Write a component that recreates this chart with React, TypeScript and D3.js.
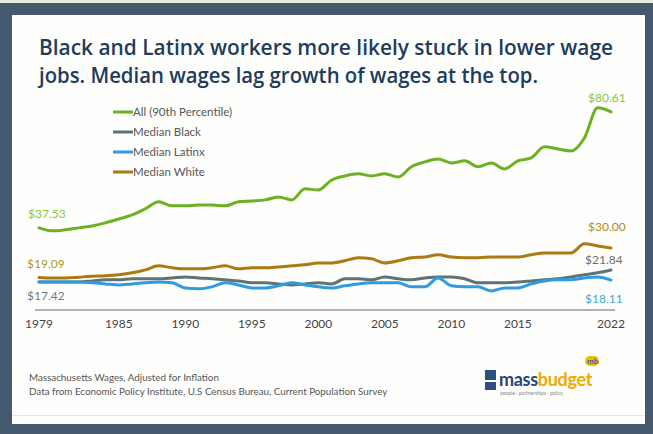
import React from "react";
import * as d3 from "d3";

const years = d3.range(1979, 2023);
const all90 = [37.53, 36.4, 36.8, 37.5, 38.2, 39.4, 40.8, 42.3, 44.6, 47.2, 45.7, 45.7, 46.0, 46.0, 45.7, 47.2, 47.5, 47.9, 49.0, 47.9, 52.0, 51.6, 55.3, 56.8, 57.6, 56.8, 57.6, 56.4, 60.2, 62.0, 63.1, 61.6, 62.4, 60.2, 61.6, 59.4, 62.4, 63.5, 67.6, 66.8, 66.1, 70.9, 82.1, 80.61];
const medBlack = [17.42, 17.4, 17.4, 17.4, 17.8, 18.2, 18.2, 18.6, 18.6, 18.6, 18.9, 19.3, 18.9, 18.6, 18.2, 17.8, 17.1, 17.1, 16.7, 16.3, 16.7, 17.1, 16.7, 18.6, 18.6, 18.2, 19.3, 18.6, 18.2, 18.9, 19.3, 19.3, 18.6, 17.1, 17.1, 17.1, 17.4, 17.8, 18.2, 18.6, 19.3, 20.1, 20.8, 21.84];
const medLatinx = [17.42, 17.4, 17.4, 17.4, 17.1, 16.7, 16.3, 16.7, 17.1, 17.4, 17.1, 15.2, 14.9, 15.6, 17.1, 16.3, 15.2, 15.2, 16.0, 17.1, 16.3, 15.6, 15.2, 16.0, 16.7, 17.1, 17.1, 17.1, 15.6, 15.6, 18.9, 16.0, 15.6, 15.6, 14.1, 15.2, 15.2, 16.7, 17.8, 18.2, 18.2, 18.9, 19.3, 18.11];
const medWhite = [19.09, 18.9, 18.9, 19.2, 19.5, 19.7, 20.1, 20.8, 21.9, 23.4, 22.7, 22.3, 22.3, 22.7, 23.4, 22.3, 22.7, 22.7, 23.0, 23.4, 23.8, 24.5, 24.5, 25.3, 26.4, 26.0, 24.5, 25.3, 26.4, 26.7, 27.5, 26.7, 26.4, 26.4, 26.7, 26.7, 26.7, 27.5, 28.2, 28.2, 28.2, 31.6, 30.8, 30.0];
const tickYears = [1979, 1985, 1990, 1995, 2000, 2005, 2010, 2015, 2022];
const seriesNames = ["All (90th Percentile)", "Median Black", "Median Latinx", "Median White"];
const seriesColors = ["#6db024", "#5e7376", "#2f9be0", "#ac7a10"];
const titleLines = [
  "Black and Latinx workers more likely stuck in lower wage",
  "jobs. Median wages lag growth of wages at the top.",
];
const footLines = [
  "Massachusetts Wages, Adjusted for Inflation",
  "Data from Economic Policy Institute, U.S Census Bureau, Current Population Survey",
];

export default function App() {
  const x = d3.scaleLinear().domain([1979, 2022]).range([39, 611]);
  const y = d3.scaleLinear().domain([7, 85]).range([310, 100]);
  const line = d3
    .line<number>()
    .x((_, i) => x(years[i]))
    .y((d) => y(d))
    .curve(d3.curveMonotoneX);
  const data = [all90, medBlack, medLatinx, medWhite];
  const drawOrder = [3, 1, 2, 0];
  const font = "Lato, 'Open Sans', sans-serif";
  const last = years.length - 1;

  return (
    <svg
      width={653}
      height={434}
      style={{ position: "fixed", left: 0, top: 0 }}
      fontFamily={font}
    >
      <rect x={0} y={0} width={653} height={434} fill="#45596e" />
      <rect x={0} y={0} width={653} height={3} fill="#e6ece0" />
      <rect x={12} y={15} width={633} height={409} fill="#fefefd" />
      <line x1={12} x2={645} y1={415.5} y2={415.5} stroke="#e4e4e4" strokeWidth={1} />

      {titleLines.map((t, i) => (
        <text
          key={t}
          x={39}
          y={55 + i * 28}
          fontFamily="'Open Sans', sans-serif"
          fontWeight={600}
          fontSize={21}
          fill="#1e3c5c"
          textLength={i === 0 ? 574 : 499}
          lengthAdjust="spacingAndGlyphs"
        >
          {t}
        </text>
      ))}

      {seriesNames.map((n, i) => (
        <g key={n}>
          <line x1={113} x2={133} y1={112 + i * 20} y2={112 + i * 20} stroke={seriesColors[i]} strokeWidth={3} />
          <text x={133} y={116 + i * 20} fontSize={11.5} fill="#555">
            {n}
          </text>
        </g>
      ))}

      <line x1={35} x2={615} y1={y(7)} y2={y(7)} stroke="#999" strokeWidth={1.5} />
      {tickYears.map((t) => (
        <text key={t} x={x(t)} y={328} textAnchor="middle" fontSize={12} fill="#444">
          {t}
        </text>
      ))}

      {drawOrder.map((i) => (
        <path
          key={i}
          d={line(data[i]) || ""}
          fill="none"
          stroke={seriesColors[i]}
          strokeWidth={3}
          strokeLinejoin="round"
          strokeLinecap="round"
        />
      ))}

      <text x={28} y={218} fontSize={12} fill="#8cc43c">${all90[0].toFixed(2)}</text>
      <text x={27} y={268} fontSize={12} fill="#a99a2a">${medWhite[0].toFixed(2)}</text>
      <text x={27} y={300} fontSize={12} fill="#7a7a7a">${medBlack[0].toFixed(2)}</text>
      <text x={588} y={102} fontSize={12} fill="#8cc43c">${all90[last].toFixed(2)}</text>
      <text x={588} y={231} fontSize={12} fill="#b48c26">${medWhite[last].toFixed(2)}</text>
      <text x={585} y={264} fontSize={12} fill="#6e6e6e">${medBlack[last].toFixed(2)}</text>
      <text x={585} y={303} fontSize={12} fill="#44a6e0">${medLatinx[last].toFixed(2)}</text>

      {footLines.map((t, i) => (
        <text key={t} x={29} y={381 + i * 14} fontSize={9.8} fill="#555">
          {t}
        </text>
      ))}

      <g>
        <rect x={485} y={370} width={11} height={10} fill="#2a4f80" />
        <rect x={485} y={382} width={11} height={8} fill="#2a4f80" />
        <text x={499} y={386} fontSize={18} fontWeight={700} fill="#27477b" letterSpacing={-0.3}>
          mass<tspan fill="#f2a900">budget</tspan>
        </text>
        <text x={500} y={395} fontSize={5} fill="#888">
          people · partnerships · policy
        </text>
        <rect x={585} y={356} width={14} height={10} rx={5} fill="#f2b800" />
        <text x={587} y={364} fontSize={8} fontWeight={700} fill="#2a67b0">
          mb
        </text>
      </g>
    </svg>
  );
}
